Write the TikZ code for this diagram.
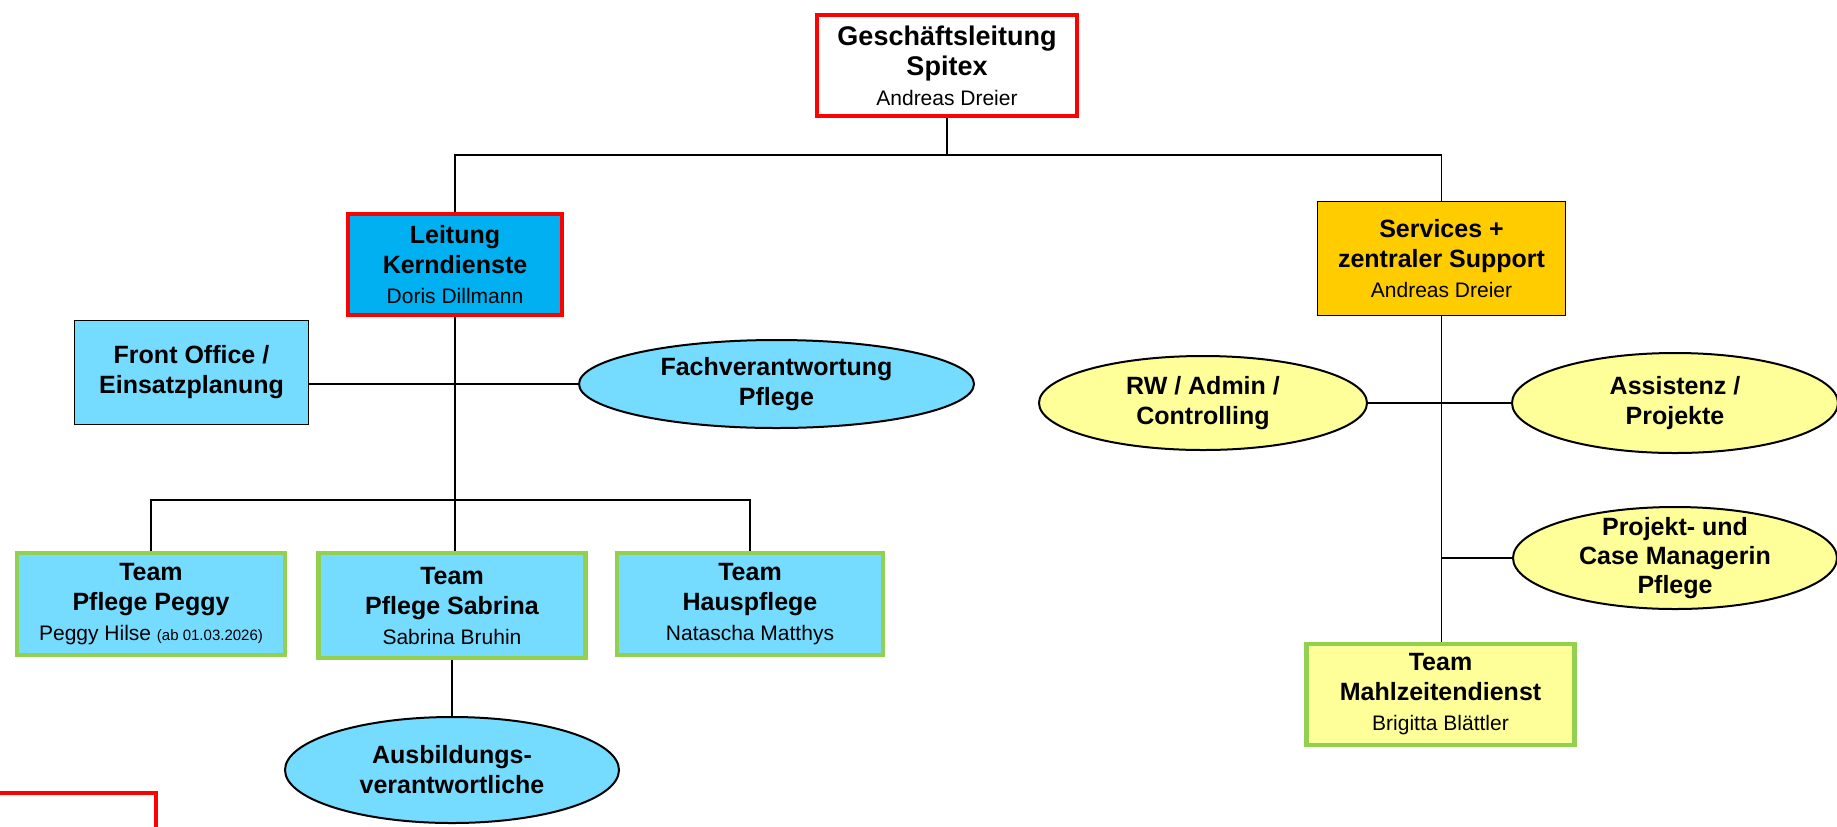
\documentclass[tikz,border=0pt]{standalone}
\usepackage{fontspec}
\setmainfont{Liberation Sans}
\usepackage{xcolor}
\usetikzlibrary{shapes.geometric,positioning,calc}

\definecolor{boxred}{HTML}{FF0000}
\definecolor{kerncyan}{HTML}{00B0F0}
\definecolor{lightcyan}{HTML}{75DBFF}
\definecolor{servgold}{HTML}{FFCC00}
\definecolor{lightyellow}{HTML}{FFFF99}
\definecolor{teamgreen}{HTML}{92D050}

\newcommand{\personname}[1]{{\fontsize{10.5}{15}\selectfont\mdseries #1}}

\begin{document}
\begin{tikzpicture}[x=0.5pt, y=-0.5pt,
    box/.style={rectangle, draw, align=center, inner sep=0pt, font=\fontsize{12.5}{15}\selectfont\bfseries},
    redbox/.style={box, draw=boxred, line width=2pt},
    teambox/.style={box, draw=teamgreen, line width=2.2pt},
    plainbox/.style={box, line width=0.75pt},
    oval/.style={ellipse, draw, line width=1pt, align=center, inner sep=0pt, font=\fontsize{12.5}{15}\selectfont\bfseries},
    link/.style={line width=0.7pt}]

    \clip (0,0) rectangle (1837,826);

    % Top level
    \node[redbox, fill=white, minimum width=130pt, minimum height=50.5pt,
          font=\fontsize{13.5}{15}\selectfont\bfseries] (gl) at (947,65.5)
          {Geschäftsleitung\\Spitex\\\personname{Andreas Dreier}};

    % Second level
    \node[redbox, fill=kerncyan, minimum width=107pt, minimum height=50.5pt] (kern) at (455,264.5)
          {Leitung\\Kerndienste\\\personname{Doris Dillmann}};
    \node[plainbox, fill=servgold, minimum width=124pt, minimum height=57pt] (serv) at (1441.5,258.5)
          {Services +\\zentraler Support\\\personname{Andreas Dreier}};

    % Kerndienste staff
    \node[plainbox, fill=lightcyan, minimum width=117pt, minimum height=52pt] (front) at (191.5,372.5)
          {Front Office /\\Einsatzplanung};
    \node[oval, fill=lightcyan, minimum width=197.5pt, minimum height=44pt] (fach) at (776.5,384)
          {Fachverantwortung\\Pflege};

    % Teams
    \node[teambox, fill=lightcyan, minimum width=134pt, minimum height=51pt] (peggy) at (151,604)
          {Team\\Pflege Peggy\\\personname{Peggy Hilse {\fontsize{7.5}{9}\selectfont(ab 01.03.2026)}}};
    \node[teambox, fill=lightcyan, minimum width=133.5pt, minimum height=52.5pt] (sabrina) at (452,605.5)
          {Team\\Pflege Sabrina\\\personname{Sabrina Bruhin}};
    \node[teambox, fill=lightcyan, minimum width=133pt, minimum height=51pt] (haus) at (750,604)
          {Team\\Hauspflege\\\personname{Natascha Matthys}};
    \node[oval, fill=lightcyan, minimum width=167pt, minimum height=53pt] (ausb) at (452,770)
          {Ausbildungs-\\verantwortliche};

    % Services staff
    \node[oval, fill=lightyellow, minimum width=164pt, minimum height=47pt] (rw) at (1203,403)
          {RW / Admin /\\Controlling};
    \node[oval, fill=lightyellow, minimum width=163pt, minimum height=50pt] (assist) at (1675,403)
          {Assistenz /\\Projekte};
    \node[oval, fill=lightyellow, minimum width=162pt, minimum height=51pt] (case) at (1675,558) {};
    \node[align=center, inner sep=0pt, font=\fontsize{12.5}{14.5}\selectfont\bfseries] (casetext) at (case)
          {Projekt- und\\Case Managerin\\Pflege};
    \node[teambox, fill=lightyellow, minimum width=134pt, minimum height=50.5pt] (mahl) at (1440.5,694.5)
          {Team\\Mahlzeitendienst\\\personname{Brigitta Blättler}};

    % Connectors
    \coordinate (topbar) at (947,155);
    \coordinate (teambar) at (455,500);
    \draw[link] (gl.south) -- (topbar);
    \draw[link] (kern.north) |- (topbar) -| (serv.north);
    \draw[link] (kern.south) -- (kern.south |- sabrina.north);
    \draw[link] (front.east |- fach.west) -- (fach.west);
    \draw[link] (peggy.north) |- (teambar) -| (haus.north);
    \draw[link] (sabrina.south) -- (ausb.north);
    \draw[link] (serv.south) -- (serv.south |- mahl.north);
    \draw[link] (rw.east) -- (assist.west);
    \draw[link] (case.west) -- (case.west -| serv.south);

    % Legend box (cut off)
    \draw[boxred, line width=2pt] (-10,793) -- (156,793) -- (156,840);
\end{tikzpicture}
\end{document}
